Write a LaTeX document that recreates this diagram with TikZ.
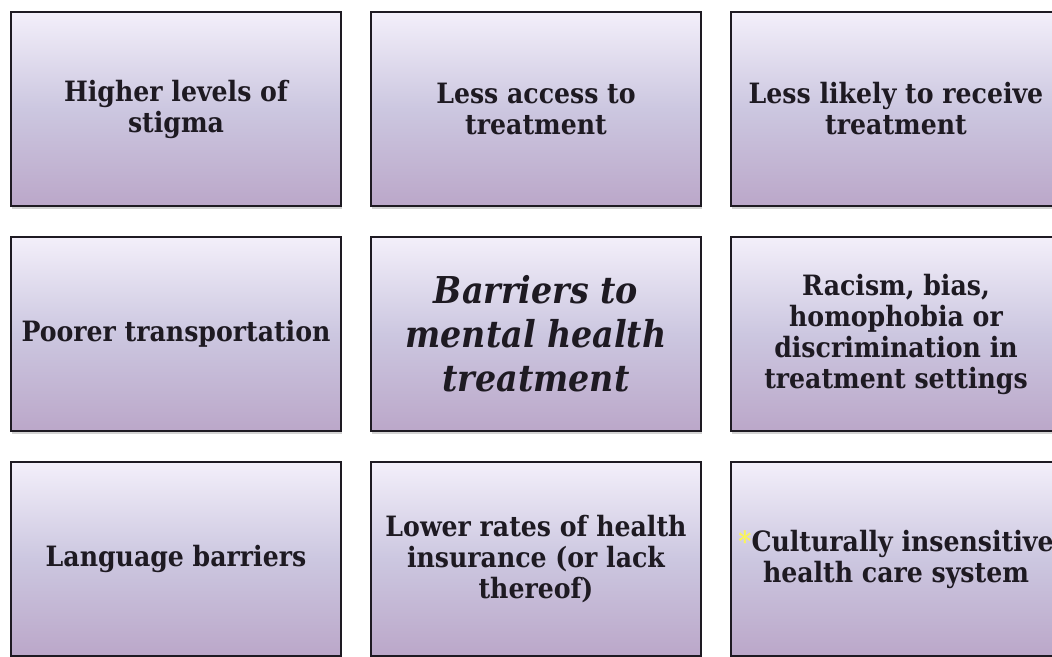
\documentclass[tikz,border=0pt]{standalone}
\usepackage{fontspec}
\setmainfont{DejaVu Serif Condensed}
\usetikzlibrary{positioning,shadows}

\definecolor{celltop}{RGB}{243,239,250}
\definecolor{cellmid}{RGB}{204,199,224}
\definecolor{cellbot}{RGB}{187,167,201}
\definecolor{ink}{RGB}{30,26,34}
\definecolor{star}{RGB}{250,245,90}

\tikzset{
  cell/.style={rectangle, draw=ink, line width=2pt, minimum width=330pt, minimum height=194pt,
    inner sep=2pt, outer sep=0pt, align=center, text=ink,
    font=\bfseries\fontsize{28}{31}\selectfont,
    top color=celltop, bottom color=cellbot, middle color=cellmid,
    drop shadow={shadow xshift=1pt, shadow yshift=-2.5pt, opacity=0.35}},
  title/.style={cell, font=\bfseries\itshape\fontsize{37}{44}\selectfont},
}

\begin{document}
\begin{tikzpicture}[node distance=31pt and 30pt]
\useasboundingbox (0,0) rectangle (1052pt,-656pt);
\node[cell] (stigma) at (176pt,-109pt) {Higher levels of\\stigma};
\node[cell, right=of stigma] (access) {Less access to\\treatment};
\node[cell, right=of access] (receive) {Less likely to receive\\treatment};
\node[cell, below=of stigma] (transport) {Poorer transportation};
\node[title, below=of access] (barriers) {Barriers to\\mental health\\treatment};
\node[cell, below=of receive] (racism) {Racism, bias,\\homophobia or\\discrimination in\\treatment settings};
\node[cell, below=of transport] (language) {Language barriers};
\node[cell, below=of barriers] (insurance) {Lower rates of health\\insurance (or lack\\thereof)};
\node[cell, below=of racism] (culture) {\textcolor{star}{*}Culturally insensitive\\health care system};
\end{tikzpicture}
\end{document}
